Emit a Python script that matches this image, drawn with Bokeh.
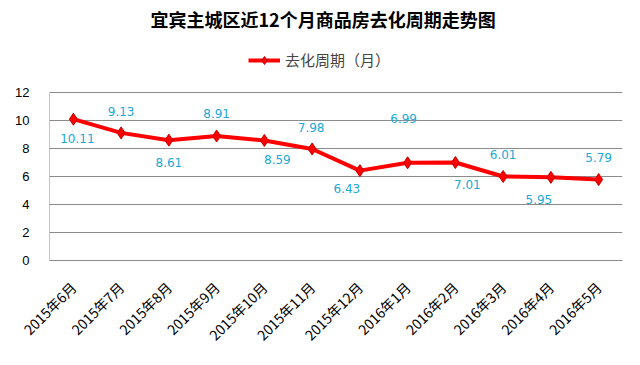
import math
from bokeh.plotting import figure
from bokeh.models import (ColumnDataSource, LabelSet, Legend, LegendItem,
                          FixedTicker, Range1d, Title)
from bokeh.embed import file_html
from bokeh.resources import INLINE
from bokeh.core.properties import value

# ---- data ----
months = ["2015年6月", "2015年7月", "2015年8月", "2015年9月", "2015年10月", "2015年11月",
          "2015年12月", "2016年1月", "2016年2月", "2016年3月", "2016年4月", "2016年5月"]
values = [10.11, 9.13, 8.61, 8.91, 8.59, 7.98, 6.43, 6.99, 7.01, 6.01, 5.95, 5.79]
label_texts = ["10.11", "9.13", "8.61", "8.91", "8.59", "7.98",
               "6.43", "6.99", "7.01", "6.01", "5.95", "5.79"]
y_ticks = [0, 2, 4, 6, 8, 10, 12]

# label placement (pixel offsets, style only)
lab_dx = [4, 0, 0, 0, 13, -1, -13, -4, 12, 0, -12, 0]
lab_dy = [-19, 21, -22, 22, -19, 21, -18, 44, -22, 22, -22, 22]

title_text = "宜宾主城区近12个月商品房去化周期走势图"
series_name = "去化周期（月）"

src = ColumnDataSource(dict(m=months, v=values, t=label_texts, dx=lab_dx, dy=lab_dy))

W, H = 640, 365
p = figure(width=W, height=H, x_range=months, y_range=Range1d(0, 16.17),
           output_backend="svg", toolbar_location=None,
           min_border_left=49, min_border_right=18, min_border_top=0, min_border_bottom=105)
p.title = Title(text=title_text, align="left", text_font="Noto Sans CJK SC",
                text_font_size="18px", text_font_style="bold", text_color="black",
                standoff=6, offset=101)
p.outline_line_color = None
p.background_fill_color = "white"
p.border_fill_color = "white"

p.ygrid.grid_line_color = "#8c8c8c"
p.ygrid.grid_line_width = 1
p.xgrid.grid_line_color = None

p.yaxis.ticker = FixedTicker(ticks=y_ticks)
p.yaxis.axis_line_color = None
p.yaxis.major_tick_line_color = None
p.yaxis.minor_tick_line_color = None
p.yaxis.major_label_text_font = "Liberation Sans"
p.yaxis.major_label_text_font_size = "13px"
p.yaxis.major_label_text_color = "black"
p.yaxis.major_label_standoff = 14

p.xaxis.axis_line_color = "#8c8c8c"
p.xaxis.major_tick_line_color = None
p.xaxis.minor_tick_line_color = None
p.xaxis.major_label_orientation = math.pi / 4
p.xaxis.major_label_text_font = "Noto Sans CJK SC"
p.xaxis.major_label_text_font_size = "14px"
p.xaxis.major_label_text_color = "black"
p.xaxis.major_label_standoff = 18
p.x_range.range_padding = 0

# left value-axis line, spanning the tick range only
p.segment(x0=[0], y0=[y_ticks[0]], x1=[0], y1=[y_ticks[-1]], line_color="#8c8c8c", line_width=1)

r_line = p.line("m", "v", source=src, line_color="#ff0000", line_width=4)
r_mark = p.scatter("m", "v", source=src, marker="diamond", size=12,
                   fill_color="#ff0000", line_color="#c00000", line_width=1)

labels = LabelSet(x="m", y="v", text="t", source=src, x_offset="dx", y_offset="dy",
                  text_align="center", text_baseline="middle",
                  text_color="#20a8d8", text_font=value("DejaVu Sans"),
                  text_font_size="12px")
p.add_layout(labels)

legend = Legend(items=[LegendItem(label=series_name, renderers=[r_line, r_mark])],
                location=(199, 190), orientation="horizontal",
                border_line_color=None, background_fill_alpha=0,
                label_text_font="Noto Sans CJK SC", label_text_font_size="15px",
                glyph_width=32, padding=0, margin=0, label_standoff=5)
p.add_layout(legend)

open("out.html", "w").write(file_html(p, INLINE))
